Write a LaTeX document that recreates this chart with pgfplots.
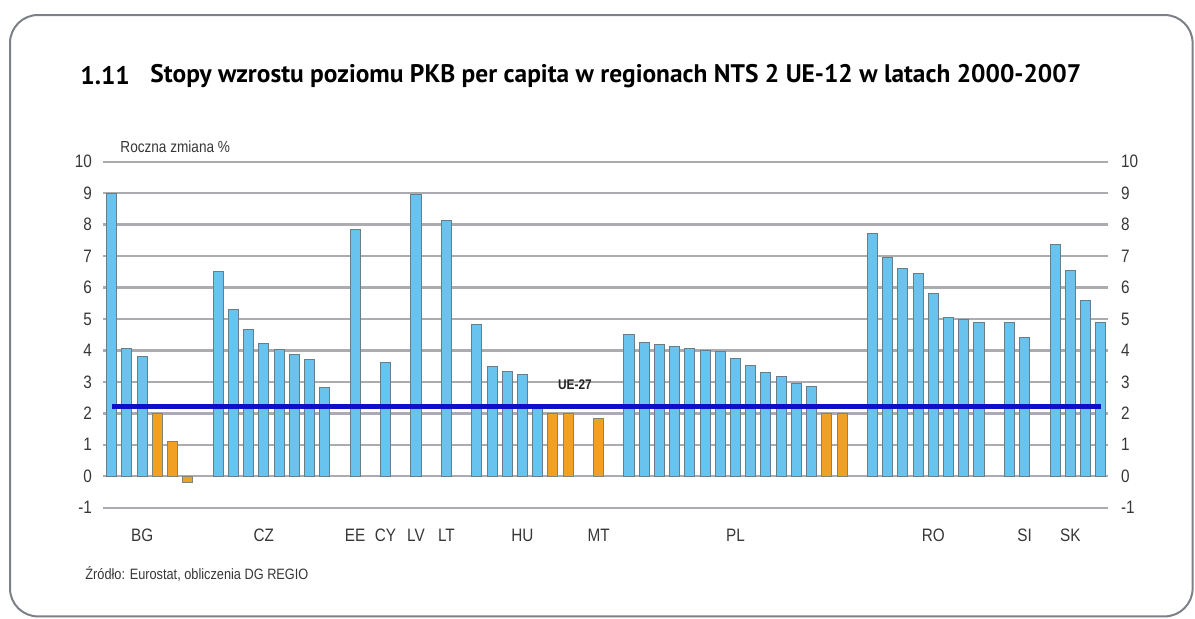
\documentclass[border=0pt]{standalone}
\usepackage{pgfplots}
\pgfplotsset{compat=1.18}
\usepackage{pgfplotstable}
\usepackage{fontspec}
\setmainfont{Liberation Sans}
\newfontfamily\narrow[FakeStretch=0.85]{Liberation Sans}
\newfontfamily\titlefont{PT Sans}
\definecolor{barblue}{RGB}{104,196,238}
\definecolor{barorange}{RGB}{240,160,35}
\definecolor{baredge}{RGB}{105,125,135}
\definecolor{uelines}{RGB}{15,15,200}
\definecolor{ticktext}{RGB}{55,55,55}
\definecolor{framegray}{RGB}{125,128,135}
\definecolor{gridline}{RGB}{172,172,176}

\pgfplotstableread{
x y
0 9.0
1 4.07
2 3.81
7 6.51
8 5.31
9 4.66
10 4.23
11 4.04
12 3.86
13 3.72
14 2.83
16 7.86
18 3.63
20 8.97
22 8.12
24 4.81
25 3.49
26 3.33
27 3.23
28 2.2
34 4.52
35 4.25
36 4.18
37 4.11
38 4.07
39 3.99
40 3.97
41 3.74
42 3.51
43 3.31
44 3.17
45 2.96
46 2.84
50 7.72
51 6.95
52 6.61
53 6.46
54 5.82
55 5.05
56 4.99
57 4.90
59 4.90
60 4.42
62 7.38
63 6.54
64 5.58
65 4.90
}\bluebars

\pgfplotstableread{
x y
3 1.98
4 1.11
5 -0.21
29 1.99
30 1.99
32 1.85
47 2.01
48 2.01
}\orangebars

\begin{document}
\begin{tikzpicture}
\path[use as bounding box] (0,0) rectangle (597.5pt,309pt);
% frame
\draw[framegray, line width=1pt, rounded corners=14pt] (5pt,0.8pt) rectangle (596.3pt,301.5pt);
% title
\node[anchor=west, inner sep=0pt] at (40pt,271pt) {\titlefont\fontsize{12.7}{15}\selectfont\bfseries 1.11};
\node[anchor=west, inner sep=0pt] at (75pt,271pt) {\titlefont\fontsize{12.7}{15}\selectfont\bfseries Stopy wzrostu poziomu PKB per capita w regionach NTS 2 UE-12 w latach 2000-2007};
% source
\node[anchor=west, inner sep=0pt, text=ticktext] at (42.5pt,22pt) {\narrow\fontsize{7.5}{9}\selectfont Źródło: Eurostat, obliczenia DG REGIO};

\begin{axis}[
  at={(51.5pt,55.15pt)}, anchor=south west,
  scale only axis, width=502.5pt, height=173pt,
  xmin=-0.57, xmax=65.48, ymin=-1, ymax=10,
  axis line style={draw=none},
  major tick length=0pt,
  tick style={draw=none},
  ytick={-1,0,...,10},
  xtick={2,10,16,18,20,22,27,32,41,54,60,63},
  xticklabels={BG,CZ,EE,CY,LV,LT,HU,MT,PL,RO,SI,SK},
  xticklabel style={yshift=-7pt, text=ticktext, font=\narrow\fontsize{9}{10}\selectfont},
  yticklabel style={xshift=-2pt, text=ticktext, font=\narrow\fontsize{9}{10}\selectfont},
  /pgf/number format/assume math mode=true,
  ybar, bar width=0.66, bar shift=0pt,
  clip=false,
]
\draw[draw=gridline, line width=1.2pt] (axis cs:-0.57,-1) -- (axis cs:65.48,-1);
\draw[draw=gridline, line width=1.2pt] (axis cs:-0.57,0) -- (axis cs:65.48,0);
\draw[draw=gridline, line width=1.2pt] (axis cs:-0.57,1) -- (axis cs:65.48,1);
\draw[draw=gridline, line width=1.2pt] (axis cs:-0.57,2) -- (axis cs:65.48,2);
\draw[draw=gridline, line width=1.2pt] (axis cs:-0.57,3) -- (axis cs:65.48,3);
\draw[draw=gridline, line width=1.2pt] (axis cs:-0.57,4) -- (axis cs:65.48,4);
\draw[draw=gridline, line width=1.2pt] (axis cs:-0.57,5) -- (axis cs:65.48,5);
\draw[draw=gridline, line width=1.2pt] (axis cs:-0.57,6) -- (axis cs:65.48,6);
\draw[draw=gridline, line width=1.2pt] (axis cs:-0.57,7) -- (axis cs:65.48,7);
\draw[draw=gridline, line width=1.2pt] (axis cs:-0.57,8) -- (axis cs:65.48,8);
\draw[draw=gridline, line width=1.2pt] (axis cs:-0.57,9) -- (axis cs:65.48,9);
\draw[draw=gridline, line width=1.2pt] (axis cs:-0.57,10) -- (axis cs:65.48,10);
\addplot[fill=barblue, draw=baredge, line width=0.5pt] table[x=x,y=y] {\bluebars};
\addplot[fill=barorange, draw=baredge!80!barorange, line width=0.5pt] table[x=x,y=y] {\orangebars};
\addplot[sharp plot, draw=uelines, line width=2.2pt, mark=none] coordinates {(0,2.22) (65,2.22)};
\node[anchor=center, font=\narrow\fontsize{7}{8}\selectfont\bfseries, text=black!85] at (axis cs:30.45,2.92) {UE-27};
\node[anchor=west, inner sep=0pt, font=\narrow\fontsize{8}{9}\selectfont, text=ticktext] at (axis cs:0.55,10.47) {Roczna zmiana \%};
\end{axis}

\begin{axis}[
  at={(51.5pt,55.15pt)}, anchor=south west,
  scale only axis, width=502.5pt, height=173pt,
  xmin=-0.57, xmax=65.48, ymin=-1, ymax=10,
  axis line style={draw=none},
  major tick length=0pt,
  tick style={draw=none},
  ytick={-1,0,...,10},
  xtick=\empty,
  yticklabel pos=right,
  yticklabel style={xshift=3pt, text=ticktext, font=\narrow\fontsize{9}{10}\selectfont},
  /pgf/number format/assume math mode=true,
]
\addplot[draw=none, mark=none] coordinates {(0,0)};
\end{axis}
\end{tikzpicture}
\end{document}
